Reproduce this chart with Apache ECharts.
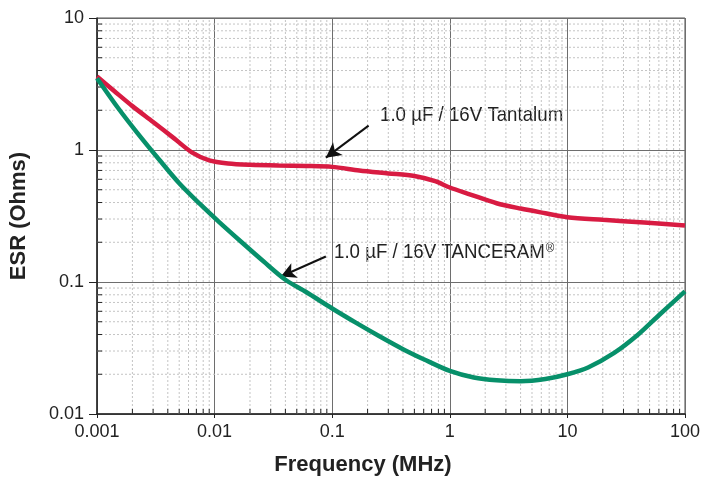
<!DOCTYPE html>
<html>
<head>
<meta charset="utf-8">
<title>ESR vs Frequency</title>
<script src="https://cdn.jsdelivr.net/npm/echarts@6/dist/echarts.min.js"></script>
<style>
  html, body { margin: 0; padding: 0; background: #fff; }
  #main { width: 703px; height: 481px; }
</style>
</head>
<body>
<div id="main"></div>
<script>
// 数据: 频率 (MHz) / ESR (Ohms)
var tantalumFreq = [0.001, 0.0014, 0.002, 0.003, 0.0045, 0.0064, 0.009, 0.013, 0.02, 0.035, 0.06, 0.1, 0.17, 0.3, 0.5, 0.75, 1, 1.5, 2.5, 4, 6.5, 10, 20, 45, 100];
var tantalumEsr  = [3.6, 2.8, 2.15, 1.63, 1.23, 0.96, 0.835, 0.79, 0.772, 0.762, 0.757, 0.745, 0.70, 0.665, 0.635, 0.58, 0.52, 0.46, 0.395, 0.36, 0.332, 0.31, 0.296, 0.282, 0.268];

var tanceramFreq = [0.001, 0.0015, 0.0022, 0.0034, 0.005, 0.0075, 0.011, 0.017, 0.026, 0.04, 0.06, 0.1, 0.16, 0.25, 0.4, 0.6, 1, 1.6, 2.5, 4, 6.5, 10, 15, 25, 40, 60, 100];
var tanceramEsr  = [3.5, 2.1, 1.35, 0.84, 0.56, 0.39, 0.283, 0.2, 0.1435, 0.104, 0.084, 0.063, 0.049, 0.039, 0.031, 0.026, 0.0212, 0.0189, 0.018, 0.0177, 0.0184, 0.020, 0.0225, 0.029, 0.04, 0.056, 0.085];

// 刻度标签
var xTickLabels = ['0.001', '0.01', '0.1', '1', '10', '100'];
var yTickLabels = ['0.01', '0.1', '1', '10'];

// 次刻度 (2..9 每个十倍程)
var xMinor = [];
var yMinor = [];
[0.001, 0.01, 0.1, 1, 10].forEach(function (d) {
  for (var m = 2; m <= 9; m++) xMinor.push(+(d * m).toPrecision(3));
});
[0.01, 0.1, 1].forEach(function (d) {
  for (var m = 2; m <= 9; m++) yMinor.push(+(d * m).toPrecision(3));
});

// 标注箭头 [尾, 头]
var tantalumArrow = [[0.204, 1.53], [0.0883, 0.875]];
var tanceramArrow = [[0.0883, 0.156], [0.0366, 0.110]];

function pairs(xs, ys) {
  return xs.map(function (x, i) { return [x, ys[i]]; });
}

var FONT = "'Liberation Sans', Arial, sans-serif";

var chart = echarts.init(document.getElementById('main'), null, { renderer: 'canvas' });

var arrowLine = {
  silent: true,
  symbol: ['none', 'arrow'],
  symbolSize: [12, 15],
  label: { show: false },
  lineStyle: { color: '#111', width: 2, type: 'solid' },
  emphasis: { disabled: true }
};

var option = {
  animation: false,
  backgroundColor: '#fff',
  grid: {
    left: 95, right: 17, top: 18, bottom: 66,
    show: true, borderColor: '#555', borderWidth: 1
  },
  xAxis: {
    type: 'log',
    logBase: 10,
    min: 0.001,
    max: 100,
    name: 'Frequency (MHz)',
    nameLocation: 'middle',
    nameGap: 40,
    nameTextStyle: {
      fontFamily: FONT, fontSize: 22, fontWeight: 'bold', color: '#222',
      padding: [0, 56, 0, 0]
    },
    axisLine: { lineStyle: { color: '#222', width: 1.5 } },
    axisTick: { length: 4, lineStyle: { color: '#222' } },
    axisLabel: {
      fontFamily: FONT, fontSize: 18, color: '#222', margin: 9,
      formatter: function (v, i) { return xTickLabels[i]; }
    },
    splitLine: { show: true, lineStyle: { color: '#6e6e6e', width: 1 } }
  },
  yAxis: {
    type: 'log',
    logBase: 10,
    min: 0.01,
    max: 10,
    name: 'ESR (Ohms)',
    nameLocation: 'middle',
    nameGap: 67,
    nameTextStyle: { fontFamily: FONT, fontSize: 22, fontWeight: 'bold', color: '#222' },
    axisLine: { lineStyle: { color: '#222', width: 1.5 } },
    axisTick: { length: 8, lineStyle: { color: '#222' } },
    axisLabel: {
      fontFamily: FONT, fontSize: 18, color: '#222', margin: 13,
      formatter: function (v, i) { return yTickLabels[i]; }
    },
    splitLine: { show: true, lineStyle: { color: '#6e6e6e', width: 1 } }
  },
  graphic: [
    {
      type: 'text', x: 380, y: 115, scaleX: 0.89, silent: true,
      style: {
        text: '1.0 µF / 16V Tantalum', fontFamily: FONT, fontSize: 21, fill: '#222',
        verticalAlign: 'middle'
      }
    },
    {
      type: 'text', x: 334, y: 252, scaleX: 0.89, silent: true,
      style: {
        text: '1.0 µF / 16V TANCERAM{r|®}', fontFamily: FONT, fontSize: 21, fill: '#222',
        verticalAlign: 'middle',
        rich: { r: { fontFamily: FONT, fontSize: 13, verticalAlign: 'top', fill: '#222', padding: [0, 0, 8, 1] } }
      }
    }
  ],
  series: [
    {
      // 次网格线 (竖)
      type: 'custom',
      silent: true,
      z: 1,
      clip: false,
      data: xMinor.map(function (v) { return [v, 0.01]; }),
      renderItem: function (params, api) {
        var b = api.coord([api.value(0), 0.01]);
        var t = api.coord([api.value(0), 10]);
        return {
          type: 'group',
          children: [
            { type: 'line', shape: { x1: b[0], y1: b[1], x2: t[0], y2: t[1] },
              style: { stroke: '#c4c4c4', lineWidth: 1, lineDash: [2, 2] } },
            { type: 'line', shape: { x1: b[0], y1: b[1], x2: b[0], y2: b[1] - 5 },
              style: { stroke: '#222', lineWidth: 1 } }
          ]
        };
      }
    },
    {
      // 次网格线 (横)
      type: 'custom',
      silent: true,
      z: 1,
      clip: false,
      data: yMinor.map(function (v) { return [0.001, v]; }),
      renderItem: function (params, api) {
        var l = api.coord([0.001, api.value(1)]);
        var r = api.coord([100, api.value(1)]);
        return {
          type: 'group',
          children: [
            { type: 'line', shape: { x1: l[0], y1: l[1], x2: r[0], y2: r[1] },
              style: { stroke: '#c4c4c4', lineWidth: 1, lineDash: [2, 2] } },
            { type: 'line', shape: { x1: l[0], y1: l[1], x2: l[0] + 5, y2: l[1] },
              style: { stroke: '#222', lineWidth: 1 } }
          ]
        };
      }
    },
    {
      name: '1.0 µF / 16V Tantalum',
      type: 'line',
      data: pairs(tantalumFreq, tantalumEsr),
      smooth: 0.3,
      showSymbol: false,
      z: 5,
      lineStyle: { color: '#d81b42', width: 4.5 },
      markLine: Object.assign({}, arrowLine, {
        data: [[{ coord: tantalumArrow[0] }, { coord: tantalumArrow[1] }]]
      })
    },
    {
      name: '1.0 µF / 16V TANCERAM',
      type: 'line',
      data: pairs(tanceramFreq, tanceramEsr),
      smooth: 0.3,
      showSymbol: false,
      z: 5,
      lineStyle: { color: '#07906a', width: 4.5 },
      markLine: Object.assign({}, arrowLine, {
        data: [[{ coord: tanceramArrow[0] }, { coord: tanceramArrow[1] }]]
      })
    }
  ]
};

chart.setOption(option);
</script>
</body>
</html>
